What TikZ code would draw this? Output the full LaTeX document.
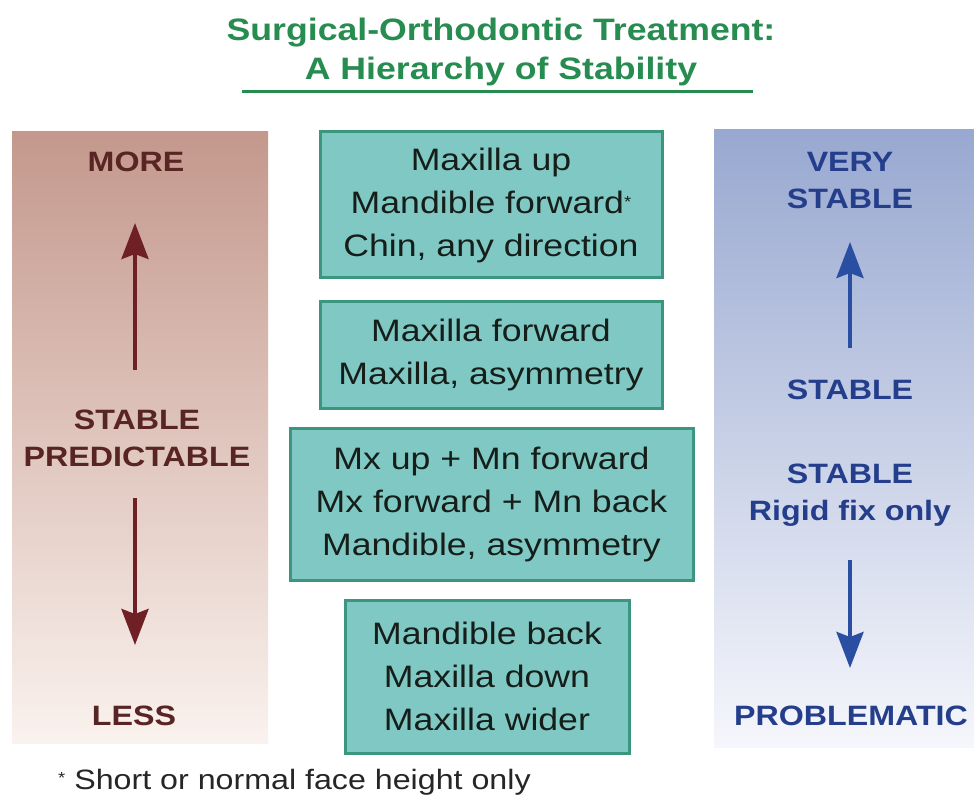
\documentclass[tikz,border=0pt]{standalone}
\usepackage{fontspec}
\setmainfont{Liberation Sans}[FakeStretch=1.15]
\usetikzlibrary{arrows.meta}
\definecolor{titlegreen}{RGB}{38,140,80}
\definecolor{boxfill}{RGB}{128,200,196}
\definecolor{boxdraw}{RGB}{60,150,125}
\definecolor{boxtext}{RGB}{22,30,26}
\definecolor{maroontxt}{RGB}{88,36,36}
\definecolor{arrowred}{RGB}{110,32,36}
\definecolor{navytxt}{RGB}{36,62,140}
\definecolor{arrowblue}{RGB}{42,78,162}
\definecolor{lefttop}{RGB}{196,152,140}
\definecolor{leftbot}{RGB}{250,242,238}
\definecolor{righttop}{RGB}{152,168,208}
\definecolor{rightbot}{RGB}{246,247,252}
\begin{document}
\begin{tikzpicture}[x=1pt,y=-1pt,
  stepbox/.style={draw=boxdraw, line width=3pt, fill=boxfill, align=center,
    font=\fontsize{31}{43}\selectfont, inner sep=0pt, text=boxtext},
  leftlbl/.style={align=center, font=\fontsize{28}{37}\selectfont\bfseries, text=maroontxt},
  rightlbl/.style={align=center, font=\fontsize{28}{37}\selectfont\bfseries, text=navytxt},
  redarrow/.style={draw=arrowred, line width=4pt, -{Stealth[length=36pt,width=27pt,inset=5pt]}},
  bluearrow/.style={draw=arrowblue, line width=4pt, -{Stealth[length=36pt,width=27pt,inset=5pt]}}
]
\useasboundingbox (0,0) rectangle (974,799);
\fill[white] (0,0) rectangle (974,799);

% title
\node[align=center, font=\fontsize{31}{39}\selectfont\bfseries, text=titlegreen] (title) at (501,52)
  {Surgical-Orthodontic Treatment:\\A Hierarchy of Stability};
\coordinate (ulA) at (242,92);
\coordinate (ulB) at (753,92);
\draw[titlegreen, line width=3pt] (ulA) -- (ulB);

% side panels
\shade[top color=lefttop, bottom color=leftbot] (12,132) rectangle (268,743);
\shade[top color=righttop, bottom color=rightbot] (714,130) rectangle (974,747);

% left labels
\node[leftlbl] (more) at (136,162) {MORE};
\node[leftlbl] (stabpred) at (137,438) {STABLE\\PREDICTABLE};
\node[leftlbl] (less) at (134,716) {LESS};
\coordinate (lupS) at (135,370);
\coordinate (lupT) at (135,223);
\coordinate (ldnS) at (135,498);
\coordinate (ldnT) at (135,645);
\draw[redarrow] (lupS) -- (lupT);
\draw[redarrow] (ldnS) -- (ldnT);

% right labels
\node[rightlbl] (verystable) at (850,181) {VERY\\STABLE};
\node[rightlbl] (stable) at (850,390) {STABLE};
\node[rightlbl] (rigid) at (850,495) {STABLE\\Rigid fix only};
\node[rightlbl] (problematic) at (851,716) {PROBLEMATIC};
\coordinate (rupS) at (850,348);
\coordinate (rupT) at (850,242);
\coordinate (rdnS) at (850,560);
\coordinate (rdnT) at (850,668);
\draw[bluearrow] (rupS) -- (rupT);
\draw[bluearrow] (rdnS) -- (rdnT);

% center boxes
\node[stepbox, minimum width=342pt, minimum height=146pt] (box1) at (491,205)
  {Maxilla up\\Mandible forward\raisebox{6pt}{\fontsize{16}{16}\selectfont *}\\Chin, any direction};
\node[stepbox, minimum width=342pt, minimum height=106pt] (box2) at (491,355)
  {Maxilla forward\\Maxilla, asymmetry};
\node[stepbox, minimum width=403pt, minimum height=152pt] (box3) at (491.5,504)
  {Mx up + Mn forward\\Mx forward + Mn back\\Mandible, asymmetry};
\node[stepbox, minimum width=284pt, minimum height=153pt] (box4) at (487,676.5)
  {Mandible back\\Maxilla down\\Maxilla wider};

% footnote
\node[anchor=west, inner sep=0pt, font=\fontsize{28}{34}\selectfont, text=black!85] (foot) at (58,782)
  {\raisebox{6pt}{\fontsize{16}{16}\selectfont *} Short or normal face height only};
\end{tikzpicture}
\end{document}
